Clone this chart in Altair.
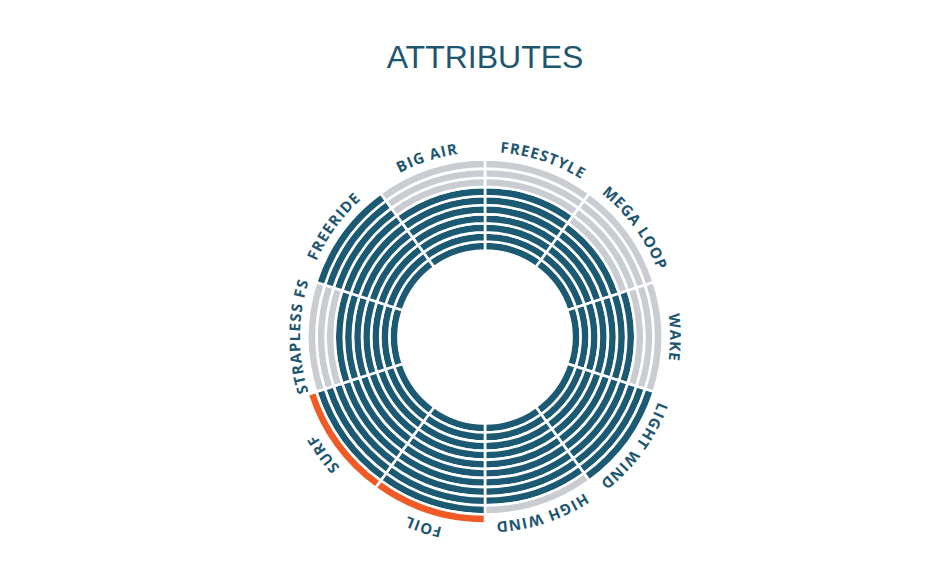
import math
import altair as alt
import pandas as pd

# ---------------- data ----------------
categories = ["FREESTYLE", "MEGA LOOP", "WAKE", "LIGHT WIND", "HIGH WIND",
              "FOIL", "SURF", "STRAPLESS FS", "FREERIDE", "BIG AIR"]
scores = [7, 6, 7, 10, 9, 10, 10, 7, 10, 7]
highlighted = [0, 0, 0, 0, 0, 1, 1, 0, 0, 0]
max_score = 10

# ---------------- style ----------------
DARK = "#1b5a72"
GRAY = "#c9ccd0"
ORANGE = "#f15a24"
TEXT = "#1d5670"
FONT = "Open Sans"
FONT_SIZE = 15
TRACKING = 1.2
R_MIN_PX, PITCH_PX = 81.9, 9.1     # radius scale: px = R_MIN_PX + PITCH_PX * level
LABEL_R_PX = 190
LABEL_R_HI_PX = 200

# approximate bold-sans advance widths (em)
CHAR_W = {"A": .69, "B": .69, "C": .63, "D": .73, "E": .56, "F": .55, "G": .72,
          "H": .76, "I": .35, "K": .66, "L": .57, "M": .93, "N": .80, "O": .78,
          "P": .65, "R": .68, "S": .57, "T": .58, "U": .76, "W": 1.02, "Y": .62,
          " ": .26}

n = len(categories)
step = 360 / n

rows = []
for i, (cat, s, h) in enumerate(zip(categories, scores, highlighted)):
    for lvl in range(1, max_score + 1):
        rows.append(dict(category=cat, t0=i * step, t1=(i + 1) * step,
                         r0=lvl - 0.5, r1=lvl + 0.5,
                         state="filled" if lvl <= s else "empty"))
    if h:
        rows.append(dict(category=cat, t0=i * step, t1=(i + 1) * step,
                         r0=max_score + 0.5, r1=max_score + 1.5, state="highlight"))
rings = pd.DataFrame(rows)

# per-character label layout along the arc
chars = []
for i, (cat, h) in enumerate(zip(categories, highlighted)):
    r_px = LABEL_R_HI_PX if h else LABEL_R_PX
    widths = [CHAR_W.get(c, .6) * FONT_SIZE + TRACKING for c in cat]
    total = sum(widths)
    center = (i + 0.5) * step
    pos = -total / 2
    for c, w in zip(cat, widths):
        mid = pos + w / 2
        th = center + math.degrees(mid / r_px)
        pos += w
        if c == " ":
            continue
        chars.append(dict(ch=c, theta=th, rad=(r_px - R_MIN_PX) / PITCH_PX, ang=th % 360))
labels = pd.DataFrame(chars)

theta_scale = alt.Scale(domain=[0, 360], range=[0, 2 * math.pi])
radius_scale = alt.Scale(type="linear", domain=[0, 12],
                         range=[R_MIN_PX, R_MIN_PX + 12 * PITCH_PX], zero=False, nice=False)

arcs = alt.Chart(rings).mark_arc(stroke="white", strokeWidth=2.6).encode(
    theta=alt.Theta("t0:Q", scale=theta_scale),
    theta2="t1:Q",
    radius=alt.Radius("r0:Q", scale=radius_scale),
    radius2="r1:Q",
    color=alt.Color("state:N",
                    scale=alt.Scale(domain=["filled", "empty", "highlight"],
                                    range=[DARK, GRAY, ORANGE]),
                    legend=None),
)

text = alt.Chart(labels).mark_text(
    font=FONT, fontSize=FONT_SIZE, fontWeight="bold", color=TEXT,
    align="center", baseline="middle",
).encode(
    theta=alt.Theta("theta:Q", scale=theta_scale),
    radius=alt.Radius("rad:Q", scale=radius_scale),
    angle=alt.Angle("ang:Q", scale=None),
    text="ch:N",
)

chart = alt.layer(arcs, text).properties(
    width=600,
    height=440,
    autosize=alt.AutoSizeParams(type="none"),
    padding={"left": 177, "top": 109, "right": 0, "bottom": 0},
    title=alt.TitleParams("ATTRIBUTES", fontSize=32, font="Liberation Sans",
                          fontWeight="normal", color=TEXT, offset=42, anchor="middle"),
).configure_view(stroke=None)

chart.save("out.html", embed_options={"renderer": "svg", "actions": False})
